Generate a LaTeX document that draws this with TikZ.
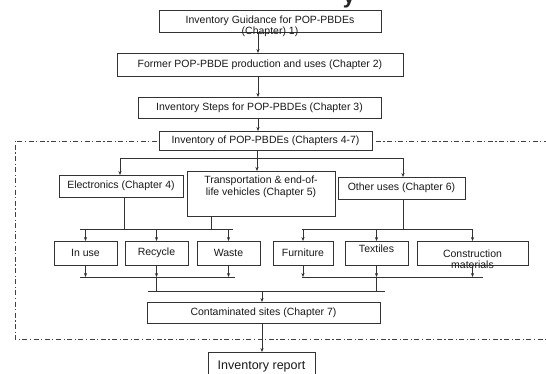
\documentclass[tikz,border=0pt]{standalone}
\usepackage{fontspec}
\setmainfont{Liberation Sans}
\usetikzlibrary{arrows.meta}
\begin{document}
\begin{tikzpicture}[x=1pt,y=-1pt,
  box/.style={draw=black!80, line width=0.7pt, fill=white, inner sep=0pt, outer sep=0pt,
              font=\fontsize{10.5}{11.5}\selectfont, text=black!90},
  lbl/.style={font=\fontsize{10.5}{11.5}\selectfont, align=center, inner sep=0pt, text=black!90},
  link/.style={draw=black!80, line width=0.7pt},
  arr/.style={link, -{Stealth[length=4pt,width=3.2pt]}},
  frame/.style={draw=black!75, line width=0.8pt, dash pattern=on 5pt off 2.5pt on 1.2pt off 2.5pt}]
\useasboundingbox (0,0) rectangle (546,373);

% title fragment at the top edge
\node[anchor=base, inner sep=0pt, font=\fontsize{22}{22}\selectfont\bfseries, text=black!85] (ttl) at (349,3) {y};

% dash-dot frame around the inventory chapters
\draw[frame] (560,141) -- (15,141) -- (15,339) -- (560,339);

% main sequence
\node[box, minimum width=222pt, minimum height=22pt] (b1) at (270,21) {};
\node[lbl] (b1t) at (270,26.5) {Inventory Guidance for POP-PBDEs\\(Chapter) 1)};
\node[box, minimum width=286pt, minimum height=23pt] (b2) at (260,64.5) {Former POP-PBDE production and uses (Chapter 2)};
\node[box, minimum width=243pt, minimum height=21pt] (b3) at (259.5,107.5) {Inventory Steps for POP-PBDEs (Chapter 3)};
\node[box, minimum width=213pt, minimum height=19pt] (b4) at (265.5,140.5) {Inventory of POP-PBDEs (Chapters 4-7)};

% chapter categories
\node[box, minimum width=124pt, minimum height=22pt] (elec) at (121,186) {Electronics (Chapter 4)};
\node[box, minimum width=148pt, minimum height=45pt] (trans) at (261,193.5) {};
\node[lbl] (transt) at (261,187) {Transportation \& end-of-\\life vehicles (Chapter 5)};
\node[box, minimum width=127pt, minimum height=22pt] (other) at (401.5,188) {Other uses (Chapter 6)};

% product groups
\node[box, minimum width=63pt, minimum height=24pt] (inuse) at (85.5,253) {In use};
\node[box, minimum width=63pt, minimum height=24pt] (recycle) at (156.5,253) {Recycle};
\node[box, minimum width=63pt, minimum height=24pt] (waste) at (228.5,253) {Waste};
\node[box, minimum width=60pt, minimum height=24pt] (furn) at (303,253) {Furniture};
\node[box, minimum width=63pt, minimum height=24pt] (text) at (376.5,253) {};
\node[lbl] (textt) at (376.5,249) {Textiles};
\node[box, minimum width=111pt, minimum height=24pt] (constr) at (472.5,253) {};
\node[lbl] (constrt) at (472.5,259) {Construction\\materials};

% sites and report
\node[box, minimum width=233pt, minimum height=21pt] (cont) at (263.5,312.5) {Contaminated sites (Chapter 7)};
\node[box, minimum width=107pt, minimum height=28pt, font=\fontsize{12.5}{14}\selectfont] (report) at (261.5,366) {Inventory report};

% connectors of the main sequence
\coordinate (spine) at (258,0);
\draw[arr] (b1.south -| spine) -- (b2.north -| spine);
\draw[arr] (b2.south -| spine) -- (b3.north -| spine);
\draw[arr] (b3.south -| spine) -- (b4.north -| spine);

% split into the three categories
\coordinate (br) at (257,158);
\coordinate (brL) at (120,158);
\coordinate (brR) at (403,158);
\draw[link] (b4.south -| br) -- (br);
\draw[link] (brL) -- (brR);
\draw[arr] (brL) -- (brL |- elec.north);
\draw[arr] (br) -- (br |- trans.north);
\draw[arr] (brR) -- (brR |- other.north);

% left group: electronics and vehicles
\coordinate (ge) at (124,229);
\coordinate (gt) at (211,229);
\coordinate (gl0) at (80,229);
\coordinate (gl1) at (233,229);
\draw[link] (elec.south -| ge) -- (ge);
\draw[link] (trans.south -| gt) -- (gt);
\draw[link] (gl0) -- (gl1);
\draw[arr] (inuse.north |- gl0) -- (inuse.north);
\draw[arr] (recycle.north |- gl0) -- (recycle.north);
\draw[arr] (waste.north |- gl0) -- (waste.north);

% right group: other uses
\coordinate (go) at (403,229);
\coordinate (gr0) at (302,229);
\coordinate (gr1) at (473,229);
\draw[link] (other.south -| go) -- (go);
\draw[link] (gr0) -- (gr1);
\draw[arr] (furn.north |- gr0) -- (furn.north);
\draw[arr] (text.north |- gr0) -- (text.north);
\draw[arr] (constr.north |- gr0) -- (constr.north);

% collection towards contaminated sites
\coordinate (l0) at (80,277);
\coordinate (l1) at (235,277);
\coordinate (r0) at (302,277);
\coordinate (r1) at (483,277);
\draw[arr] (inuse.south) -- (inuse.south |- l0);
\draw[arr] (recycle.south) -- (recycle.south |- l0);
\draw[arr] (waste.south) -- (waste.south |- l0);
\draw[arr] (furn.south) -- (furn.south |- r0);
\draw[arr] (text.south) -- (text.south |- r0);
\draw[arr] (constr.south) -- (constr.south |- r0);
\draw[link] (l0) -- (l1);
\draw[link] (r0) -- (r1);
\coordinate (m0) at (148,291);
\coordinate (m1) at (385,291);
\draw[link] (recycle.south |- l0) -- (recycle.south |- m0);
\draw[link] (text.south |- r0) -- (text.south |- m1);
\draw[link] (m0) -- (m1);
\coordinate (mc) at (262,291);
\draw[arr] (mc) -- (cont.north -| mc);
\draw[arr] (cont.south -| mc) -- (report.north -| mc);
\end{tikzpicture}
\end{document}
